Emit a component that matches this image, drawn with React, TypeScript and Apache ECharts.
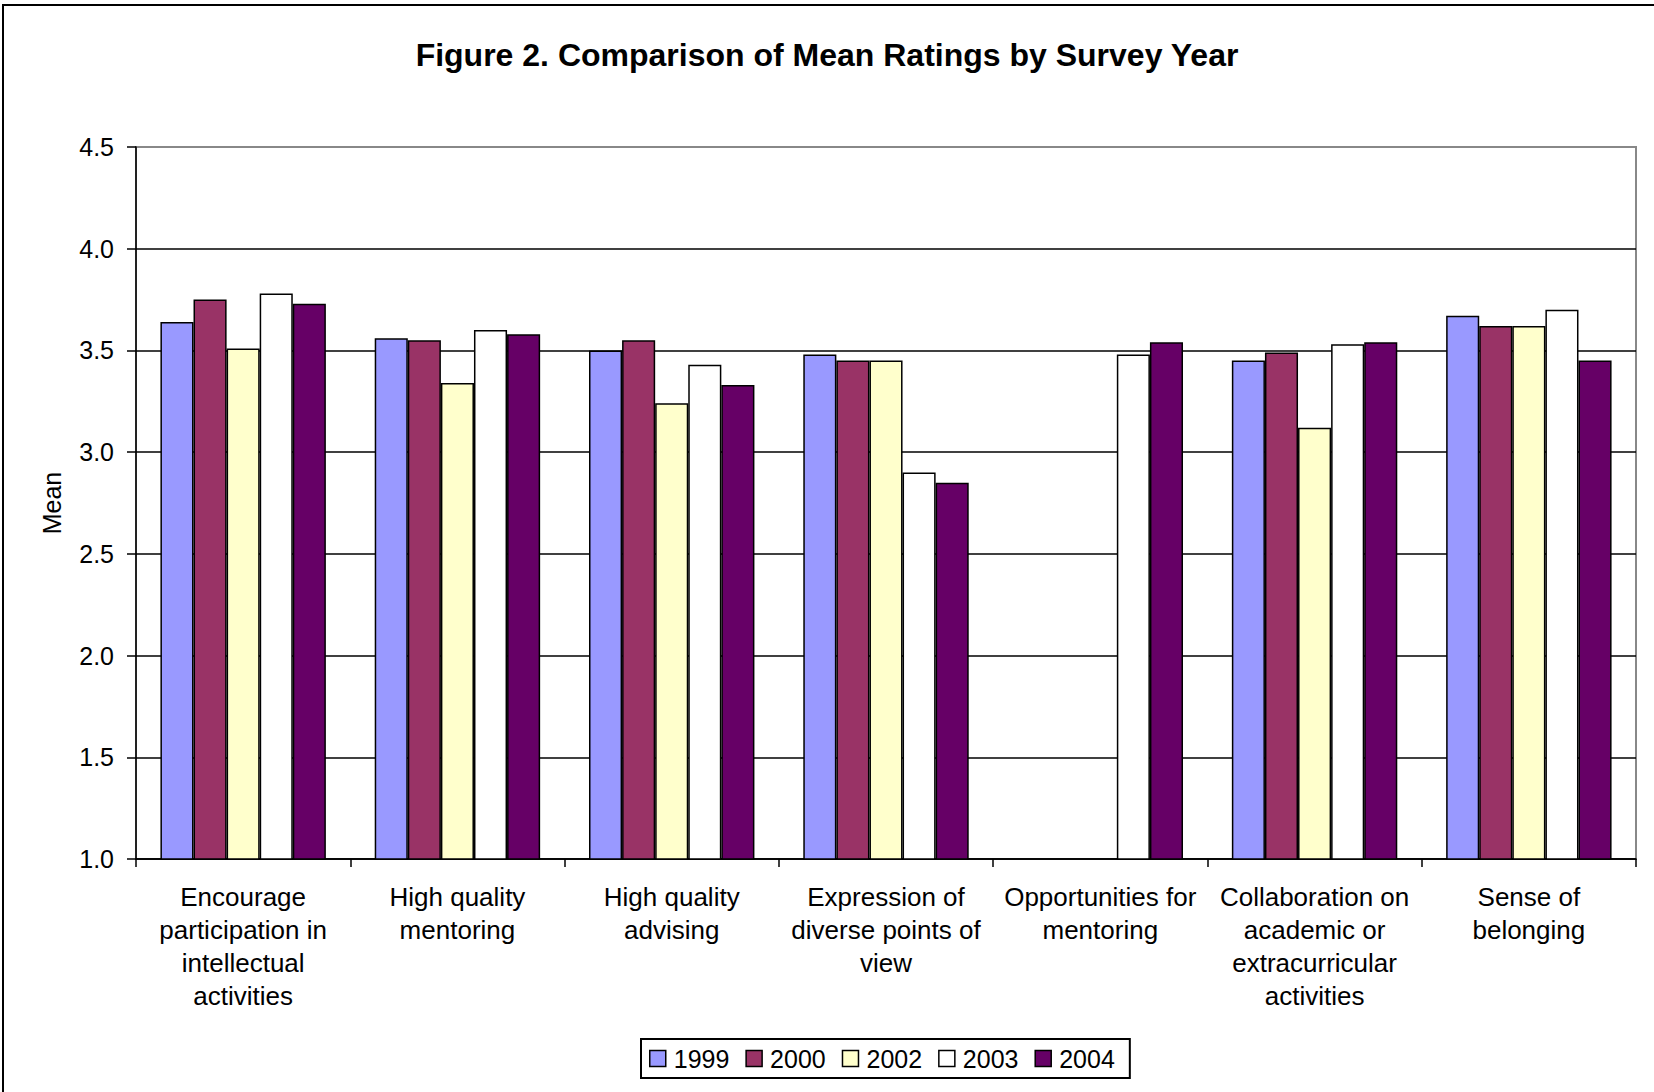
import React, { useEffect, useRef } from "react";
import * as echarts from "echarts";

const categories = [
  "Encourage\nparticipation in\nintellectual\nactivities",
  "High quality\nmentoring",
  "High quality\nadvising",
  "Expression of\ndiverse points of\nview",
  "Opportunities for\nmentoring",
  "Collaboration on\nacademic or\nextracurricular\nactivities",
  "Sense of\nbelonging",
];

const years = ["1999", "2000", "2002", "2003", "2004"];

const v1999 = [3.64, 3.56, 3.5, 3.48, null, 3.45, 3.67];
const v2000 = [3.75, 3.55, 3.55, 3.45, null, 3.49, 3.62];
const v2002 = [3.51, 3.34, 3.24, 3.45, null, 3.12, 3.62];
const v2003 = [3.78, 3.6, 3.43, 2.9, 3.48, 3.53, 3.7];
const v2004 = [3.73, 3.58, 3.33, 2.85, 3.54, 3.54, 3.45];

const seriesValues = [v1999, v2000, v2002, v2003, v2004];
const colors = ["#9999FF", "#993366", "#FFFFCC", "#FFFFFF", "#660066"];

const FONT = "'Liberation Sans', Arial, sans-serif";

export default function App() {
  const ref = useRef<HTMLDivElement>(null);

  useEffect(() => {
    document.body.style.margin = "0";
    const chart = echarts.init(ref.current!, null, { renderer: "svg" });
    chart.setOption({
      animation: false,
      backgroundColor: "#ffffff",
      textStyle: { fontFamily: FONT },
      title: {
        text: "Figure 2. Comparison of Mean Ratings by Survey Year",
        left: "center",
        top: 34,
        textStyle: { fontFamily: FONT, fontSize: 32, fontWeight: "bold", color: "#000" },
      },
      graphic: [
        {
          type: "rect",
          shape: { x: 3, y: 5, width: 1700, height: 1200 },
          style: { fill: "none", stroke: "#000", lineWidth: 2 },
          silent: true,
        },
        {
          type: "text",
          x: 52,
          y: 503,
          rotation: Math.PI / 2,
          style: {
            text: "Mean",
            fontFamily: FONT,
            fontSize: 25,
            fill: "#000",
            textAlign: "center",
            textVerticalAlign: "middle",
          },
        },
      ],
      legend: {
        data: years,
        left: 641,
        top: 1039,
        orient: "horizontal",
        itemWidth: 16,
        itemHeight: 16,
        itemGap: 16,
        icon: "rect",
        padding: [7, 15, 7, 8],
        borderColor: "#000",
        borderWidth: 2,
        textStyle: { fontFamily: FONT, fontSize: 25, color: "#000", padding: [0, 0, 0, 3] },
        itemStyle: { borderColor: "#000", borderWidth: 1.5 },
      },
      grid: {
        left: 136,
        right: 18,
        top: 147,
        bottom: 233,
        show: true,
        borderColor: "#888888",
        borderWidth: 2,
        backgroundColor: "#ffffff",
      },
      xAxis: {
        type: "category",
        data: categories,
        axisLine: { lineStyle: { color: "#000", width: 1.5 } },
        axisTick: { show: true, length: 8, inside: false, alignWithLabel: false, lineStyle: { color: "#000", width: 1.5 } },
        axisLabel: {
          interval: 0,
          margin: 21,
          fontFamily: FONT,
          fontSize: 26,
          lineHeight: 33,
          color: "#000",
          verticalAlign: "top",
        },
        splitLine: { show: false },
      },
      yAxis: {
        type: "value",
        min: 1.0,
        max: 4.5,
        interval: 0.5,
        axisLine: { show: true, lineStyle: { color: "#000", width: 1.5 } },
        axisTick: { show: true, length: 9, lineStyle: { color: "#000", width: 1.5 } },
        axisLabel: {
          margin: 22,
          fontFamily: FONT,
          fontSize: 25,
          color: "#000",
          formatter: (v: number) => v.toFixed(1),
        },
        splitLine: {
          show: true,
          lineStyle: {
            width: 1.5,
            color: ["#000", "#000", "#000", "#000", "#000", "#000", "#000", "#888888"],
          },
        },
      },
      series: years.map((y, i) => ({
        name: y,
        type: "bar",
        data: seriesValues[i],
        barGap: "0%",
        barCategoryGap: "22.8%",
        itemStyle: { color: colors[i], borderColor: "#000", borderWidth: 1.5 },
      })),
    });
    return () => chart.dispose();
  }, []);

  return <div ref={ref} style={{ width: 1654, height: 1092 }} />;
}
